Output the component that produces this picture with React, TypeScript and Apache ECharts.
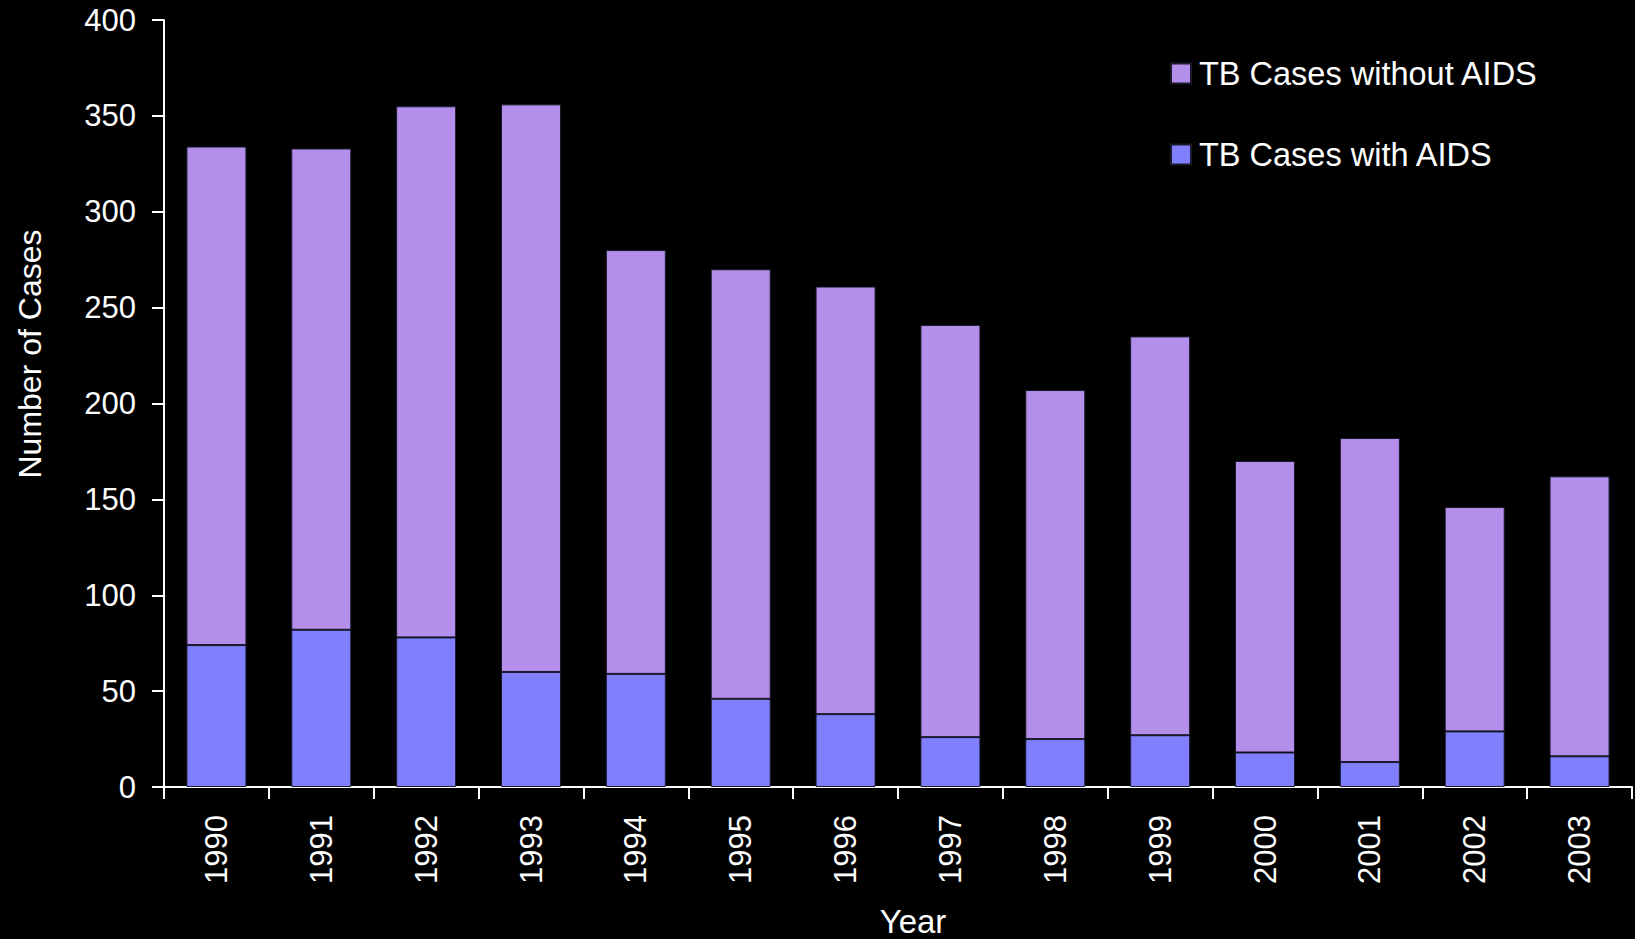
import React, { useEffect, useRef } from "react";
import * as echarts from "echarts";

const years = ["1990", "1991", "1992", "1993", "1994", "1995", "1996", "1997", "1998", "1999", "2000", "2001", "2002", "2003"];
const withAids = [74, 82, 78, 60, 59, 46, 38, 26, 25, 27, 18, 13, 29, 16];
const withoutAids = [260, 251, 277, 296, 221, 224, 223, 215, 182, 208, 152, 169, 117, 146];
const seriesNames = ["TB Cases without AIDS", "TB Cases with AIDS"];
const yAxisTitle = "Number of Cases";
const xAxisTitle = "Year";

const FONT = "'Liberation Sans', Arial, sans-serif";

export default function App() {
  const ref = useRef<HTMLDivElement>(null);
  useEffect(() => {
    if (!ref.current) return;
    const chart = echarts.init(ref.current, null, { renderer: "svg" });
    chart.setOption({
      animation: false,
      backgroundColor: "#000000",
      textStyle: { fontFamily: FONT },
      grid: { left: 164, right: 3, top: 20, bottom: 152, containLabel: false },
      legend: {
        data: seriesNames,
        orient: "vertical",
        left: 1165,
        top: 52,
        itemWidth: 20,
        itemHeight: 20,
        itemGap: 48,
        icon: "rect",
        textStyle: { color: "#ffffff", fontSize: 32.5, fontFamily: FONT, padding: [0, 0, 0, 3] },
      },
      xAxis: {
        type: "category",
        data: years,
        boundaryGap: true,
        axisLine: { lineStyle: { color: "#ffffff", width: 2 } },
        axisTick: { show: true, length: 12, lineStyle: { color: "#ffffff", width: 2 } },
        axisLabel: { color: "#ffffff", fontSize: 31, rotate: 90, margin: 28, fontFamily: FONT },
        splitLine: { show: false },
      },
      yAxis: {
        type: "value",
        min: 0,
        max: 400,
        interval: 50,
        axisLine: { show: true, lineStyle: { color: "#ffffff", width: 2 } },
        axisTick: { show: true, length: 12, lineStyle: { color: "#ffffff", width: 2 } },
        axisLabel: { color: "#ffffff", fontSize: 31, margin: 28, fontFamily: FONT },
        splitLine: { show: false },
      },
      graphic: [
        {
          type: "text",
          x: 30,
          y: 354,
          rotation: Math.PI / 2,
          style: { text: yAxisTitle, fill: "#ffffff", font: `32px ${FONT}`, align: "center", verticalAlign: "middle" },
        },
        {
          type: "text",
          x: 913,
          y: 921,
          style: { text: xAxisTitle, fill: "#ffffff", font: `33px ${FONT}`, align: "center", verticalAlign: "middle" },
        },
      ],
      series: [
        {
          name: seriesNames[1],
          type: "bar",
          stack: "total",
          data: withAids,
          barWidth: 60,
          itemStyle: { color: "#8080FF", borderColor: "#1a1a2a", borderWidth: 1 },
        },
        {
          name: seriesNames[0],
          type: "bar",
          stack: "total",
          data: withoutAids,
          barWidth: 60,
          itemStyle: { color: "#B38FEB", borderColor: "#1a1a2a", borderWidth: 1 },
        },
      ],
    });
    return () => chart.dispose();
  }, []);
  return (
    <div
      ref={ref}
      style={{ position: "absolute", left: 0, top: 0, width: 1635, height: 939, background: "#000" }}
    />
  );
}
